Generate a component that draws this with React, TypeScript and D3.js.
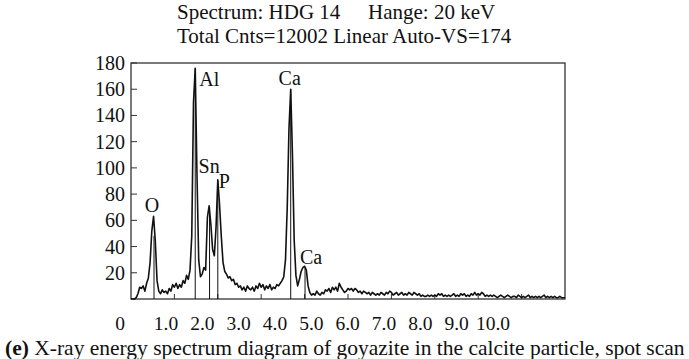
import { scaleLinear, line } from 'd3'

// EDS spectrum, one value per 0.04 keV channel, 0–10 keV
const STEP = 0.04
const COUNTS = [
  0, 0, 0, 1, 4, 9, 8, 10, 6, 12,
  16, 28, 52, 63, 44, 14, 6, 4, 7, 5,
  6, 4, 8, 6, 11, 9, 12, 8, 11, 9,
  14, 12, 18, 15, 22, 48, 150, 176, 95, 30,
  17, 19, 24, 22, 62, 71, 57, 38, 33, 55,
  91, 72, 48, 28, 21, 19, 16, 17, 14, 15,
  11, 12, 9, 10, 7, 9, 6, 10, 8, 7,
  9, 6, 10, 8, 12, 9, 11, 7, 10, 8,
  11, 7, 9, 8, 11, 10, 12, 14, 17, 30,
  70, 130, 160, 110, 45, 18, 10, 15, 21, 24,
  25, 22, 10, 5, 3, 4, 3, 6, 4, 3,
  5, 4, 7, 6, 8, 5, 9, 7, 9, 6,
  12, 9, 7, 5, 6, 8, 7, 8, 6, 8,
  7, 5, 6, 4, 6, 5, 4, 5, 3, 5,
  4, 3, 4, 3, 5, 4, 3, 5, 4, 6,
  5, 3, 4, 5, 3, 4, 5, 3, 4, 3,
  5, 4, 3, 5, 4, 3, 4, 2, 3, 2,
  2, 3, 2, 3, 2, 3, 2, 4, 3, 4,
  2, 3, 2, 3, 2, 3, 4, 2, 3, 2,
  4, 3, 4, 2, 3, 2, 4, 3, 5, 3,
  4, 3, 5, 4, 2, 3, 2, 3, 2, 3,
  2, 1, 2, 3, 2, 1, 2, 3, 2, 1,
  2, 2, 1, 3, 2, 1, 2, 1, 2, 3,
  1, 2, 1, 2, 1, 2, 1, 2, 3, 1,
  2, 1, 2, 1, 2, 1, 1, 2, 1, 1,
  1,
]

// element markers
const PEAK_LABELS = ['O', 'Al', 'Sn', 'P', 'Ca', 'Ca']
const PEAK_KEV = [0.53, 1.48, 1.81, 2.0, 3.68, 4.01]
const PEAK_TOP = [48, 176, 70, 90, 160, 24]

const Y_TICKS = [20, 40, 60, 80, 100, 120, 140, 160, 180]
const X_TICKS = [1, 2, 3, 4, 5, 6, 7, 8, 9]
const X_TICK_VALUES = [0, 1, 2, 3, 4, 5, 6, 7, 8, 9, 10]
const X_TICK_LABELS = ['0', '1.0', '2.0', '3.0', '4.0', '5.0', '6.0', '7.0', '8.0', '9.0', '10.0']

const TITLE_1A = 'Spectrum: HDG 14'
const TITLE_1B = 'Hange: 20 keV'
const TITLE_2 = 'Total Cnts=12002 Linear Auto-VS=174'
const CAPTION_TAG = '(e)'
const CAPTION = ' X-ray energy spectrum diagram of goyazite in the calcite particle, spot scan'

const W = 689
const H = 359
const FONT = '"Liberation Serif", "Times New Roman", serif'

// label placement relative to the marker top, px
const LABEL_LAYOUT = [
  { dx: -2, dy: -24, anchor: 'middle' },
  { dx: 4, dy: 18, anchor: 'start' },
  { dx: -11, dy: -34, anchor: 'start' },
  { dx: 1, dy: 7, anchor: 'start' },
  { dx: -1, dy: -4, anchor: 'middle' },
  { dx: -5, dy: -4, anchor: 'start' },
]

export default function App() {
  const x = scaleLinear().domain([0, 10]).range([131, 565])
  const y = scaleLinear().domain([0, 180]).range([299, 63])
  // the printed energy labels sit on their own (offset) spacing under the frame
  const xl = scaleLinear().domain([0, 1, 10]).range([120, 166, 493])

  const pts = COUNTS.map((c, i) => [i * STEP, c] as [number, number])
  const path = line<[number, number]>()
    .x((d) => x(d[0]))
    .y((d) => y(d[1]))(pts)

  const [x0, x1] = x.range()
  const [y0, y1] = y.range()

  return (
    <svg
      width={W}
      height={H}
      viewBox={`0 0 ${W} ${H}`}
      style={{ position: 'absolute', left: 0, top: 0, display: 'block', background: '#fff' }}
      fontFamily={FONT}
    >
      <rect width={W} height={H} fill="#fff" />

      <text x={177} y={19} fontSize={21} fill="#111">{TITLE_1A}</text>
      <text x={368} y={19} fontSize={21} fill="#111">{TITLE_1B}</text>
      <text x={177} y={43} fontSize={21} fill="#111">{TITLE_2}</text>

      {/* frame */}
      <rect x={x0} y={y1} width={x1 - x0} height={y0 - y1} fill="none" stroke="#333" strokeWidth={1.3} />

      {Y_TICKS.map((t) => (
        <g key={t}>
          <line x1={x0} x2={x0 + 6} y1={y(t)} y2={y(t)} stroke="#333" strokeWidth={1} />
          <text x={125} y={y(t)} dy="0.35em" textAnchor="end" fontSize={20} fill="#111">
            {t}
          </text>
        </g>
      ))}

      {X_TICKS.map((t) => (
        <line key={t} x1={x(t)} x2={x(t)} y1={y0} y2={y0 - 5} stroke="#333" strokeWidth={1} />
      ))}

      {X_TICK_VALUES.map((v, i) => (
        <text key={v} x={xl(v)} y={330} textAnchor="middle" fontSize={19.5} fill="#111">
          {X_TICK_LABELS[i]}
        </text>
      ))}

      {/* element marker lines */}
      {PEAK_KEV.map((e, i) => (
        <line key={i} x1={x(e)} x2={x(e)} y1={y0} y2={y(PEAK_TOP[i])} stroke="#111" strokeWidth={1} />
      ))}

      <path d={path ?? ''} fill="none" stroke="#111" strokeWidth={1.6} strokeLinejoin="round" />

      {PEAK_LABELS.map((lab, i) => (
        <text
          key={i}
          x={x(PEAK_KEV[i]) + LABEL_LAYOUT[i].dx}
          y={y(PEAK_TOP[i]) + LABEL_LAYOUT[i].dy}
          textAnchor={LABEL_LAYOUT[i].anchor}
          fontSize={20}
          fill="#111"
        >
          {lab}
        </text>
      ))}

      <text x={5} y={355} fontSize={21.5} fill="#111">
        <tspan fontWeight="bold">{CAPTION_TAG}</tspan>
        <tspan>{CAPTION}</tspan>
      </text>
    </svg>
  )
}
